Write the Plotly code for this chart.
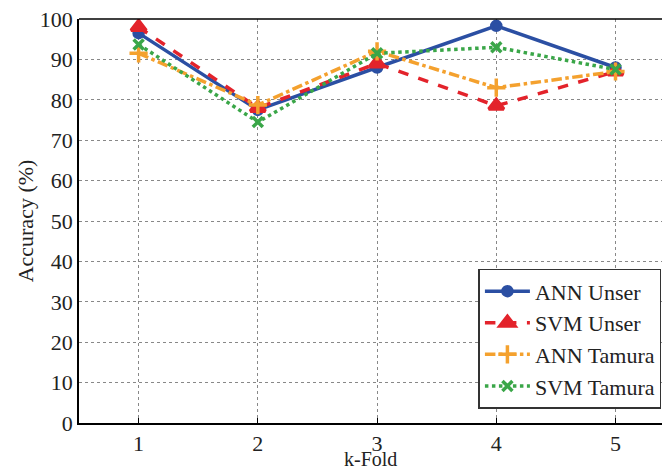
import plotly.graph_objects as go

folds = [1, 2, 3, 4, 5]
ann_unser = [96.5, 77.5, 88.0, 98.3, 88.0]
svm_unser = [98.0, 78.0, 89.0, 78.5, 87.0]
ann_tamura = [91.5, 78.7, 92.0, 83.0, 87.0]
svm_tamura = [93.7, 74.5, 91.5, 93.0, 87.5]
yticks = [0, 10, 20, 30, 40, 50, 60, 70, 80, 90, 100]

FONT = "Liberation Serif"

fig = go.Figure()
series = [
    ("ANN Unser", ann_unser, "#2b4fa3", "solid", "circle", 9),
    ("SVM Unser", svm_unser, "#e3232b", "dash", "triangle-up", 13),
    ("ANN Tamura", ann_tamura, "#f4a12e", "dashdot", "cross-thin-open", 13),
    ("SVM Tamura", svm_tamura, "#3aa648", "dot", "x-thin-open", 10),
]
for name, ys, c, dash, sym, sz in series:
    fig.add_trace(go.Scatter(
        x=folds, y=ys, name=name, mode="lines+markers",
        line=dict(color=c, width=3.5, dash=dash),
        marker=dict(symbol=sym, size=sz, color=c, line=dict(color=c, width=3.5)),
    ))

fig.add_shape(type="line", xref="paper", yref="paper", x0=0, x1=1, y0=1, y1=1,
              line=dict(color="black", width=1.5))

fig.add_annotation(text="k-Fold", xref="paper", yref="paper", x=0.5, y=-0.09,
                   xanchor="center", yanchor="middle", showarrow=False,
                   font=dict(family=FONT, size=20, color="#222"))

fig.update_layout(
    width=662, height=470,
    margin=dict(l=79, r=0, t=19, b=47, autoexpand=False),
    paper_bgcolor="white", plot_bgcolor="white",
    font=dict(family=FONT, size=22, color="#222"),
    showlegend=True,
    legend=dict(x=0.999, y=0.035, xanchor="right", yanchor="bottom",
                bgcolor="white", bordercolor="#333", borderwidth=1.5,
                font=dict(family=FONT, size=22), tracegroupgap=0,
                itemwidth=45),
    xaxis=dict(range=[0.5, 5.39], tickvals=folds, showgrid=True,
               gridcolor="#888", griddash="dot", gridwidth=1,
               showline=True, linecolor="black", linewidth=1.5,
               ticks="inside", ticklen=5, tickcolor="black",
               zeroline=False, automargin=False),
    yaxis=dict(range=[0, 100], tickvals=yticks, showgrid=True,
               gridcolor="#888", griddash="dot", gridwidth=1,
               showline=True, linecolor="black", linewidth=1.5,
               ticks="", zeroline=False, automargin=False,
               title=dict(text="Accuracy (%)", standoff=0, font=dict(size=22))),
)

fig.write_html("out.html", post_script="document.body.style.margin='0';",
               config={"displayModeBar": False})
